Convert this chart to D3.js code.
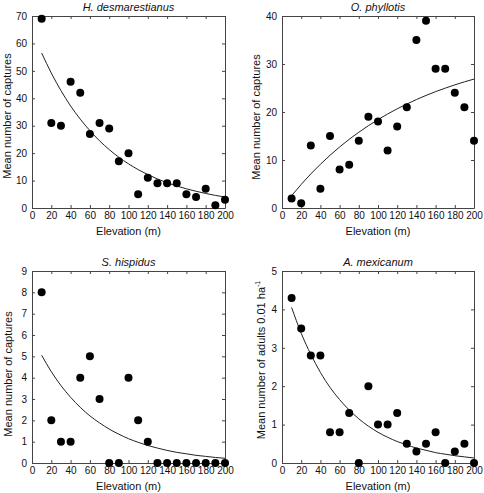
<!DOCTYPE html>
<html><head><meta charset="utf-8">
<script src="https://cdn.jsdelivr.net/npm/d3@7"></script>
<style>
body{margin:0;background:#fff}
svg text{font-family:"Liberation Sans",Arial,Helvetica,sans-serif;fill:#111}
</style>
</head><body>
<svg id="chart" width="484" height="493"></svg>
<script>
// ---------- data ----------
const elevation = [10,20,30,40,50,60,70,80,90,100,110,120,130,140,150,160,170,180,190,200];
const xTicks = [0,20,40,60,80,100,120,140,160,180,200];

const hDesmCaptures = [69,31,30,46,42,27,31,29,17,20,5,11,9,9,9,5,4,7,1,3];
const hDesmFit = [56.5,49.2,42.8,37.2,32.4,28.2,24.5,21.3,18.5,16.1,14.0,12.2,10.6,9.2,8.0,7.0,6.1,5.3,4.6,4.0];
const hDesmTicks = [0,10,20,30,40,50,60,70];

const oPhylCaptures = [2,1,13,4,15,8,9,14,19,18,12,17,21,35,39,29,29,24,21,14];
const oPhylFit = [2.55,4.91,7.09,9.11,10.98,12.71,14.31,15.78,17.15,18.41,19.58,20.67,21.66,22.59,23.45,24.24,24.97,25.65,26.28,26.86];
const oPhylTicks = [0,10,20,30,40];

const sHispCaptures = [8,2,1,1,4,5,3,0,0,4,2,1,0,0,0,0,0,0,0,0];
const sHispFit = [5.05,4.28,3.63,3.08,2.61,2.21,1.88,1.59,1.35,1.14,0.97,0.82,0.70,0.59,0.50,0.43,0.36,0.31,0.26,0.22];
const sHispTicks = [0,1,2,3,4,5,6,7,8,9];

const aMexAdults = [4.3,3.5,2.8,2.8,0.8,0.8,1.3,0,2.0,1.0,1.0,1.3,0.5,0.3,0.5,0.8,0,0.3,0.5,0];
const aMexFit = [4.05,3.38,2.83,2.36,1.97,1.65,1.38,1.15,0.96,0.80,0.67,0.56,0.47,0.39,0.33,0.27,0.23,0.19,0.16,0.13];
const aMexTicks = [0,1,2,3,4,5];

const titles = ["H. desmarestianus","O. phyllotis","S. hispidus","A. mexicanum"];
const yLabels = ["Mean number of captures","Mean number of captures","Mean number of captures","Mean number of adults 0.01 ha"];
const xLabel = "Elevation (m)";

// ---------- layout ----------
const panels = [
  {title:titles[0], yLabel:yLabels[0], values:hDesmCaptures, fit:hDesmFit, yTicks:hDesmTicks,
   x0:32, x1:225, y0:16, y1:208, labX:7, labY:116, sup:false},
  {title:titles[1], yLabel:yLabels[1], values:oPhylCaptures, fit:oPhylFit, yTicks:oPhylTicks,
   x0:282, x1:474, y0:16, y1:208, labX:256, labY:117, sup:false},
  {title:titles[2], yLabel:yLabels[2], values:sHispCaptures, fit:sHispFit, yTicks:sHispTicks,
   x0:32, x1:225, y0:271, y1:463, labX:7.5, labY:374, sup:false},
  {title:titles[3], yLabel:yLabels[3], values:aMexAdults, fit:aMexFit, yTicks:aMexTicks,
   x0:282, x1:474, y0:271, y1:463, labX:261, labY:360, sup:true}
];

const svg = d3.select("#chart");
const fmt = d3.format("d");

function styleAxis(sel){
  sel.select(".domain").attr("stroke","#444").attr("stroke-width",1);
  sel.selectAll(".tick line").attr("stroke","#444").attr("stroke-width",1);
  sel.selectAll(".tick text").attr("font-size","10px").attr("fill","#111")
     .attr("font-family","'Liberation Sans',Arial,sans-serif");
}

panels.forEach(p => {
  const yMax = p.yTicks[p.yTicks.length-1];
  const x = d3.scaleLinear().domain([0,200]).range([p.x0,p.x1]);
  const y = d3.scaleLinear().domain([0,yMax]).range([p.y1,p.y0]);
  const g = svg.append("g");

  // axes (inward ticks on all sides)
  g.append("g").attr("transform",`translate(0,${p.y1})`)
    .call(d3.axisBottom(x).tickValues(xTicks).tickFormat(fmt).tickSizeInner(-3).tickSizeOuter(0).tickPadding(4))
    .call(styleAxis);
  g.append("g").attr("transform",`translate(0,${p.y0})`)
    .call(d3.axisTop(x).tickValues(xTicks).tickSizeInner(-3).tickSizeOuter(0).tickFormat(""))
    .call(styleAxis);
  g.append("g").attr("transform",`translate(${p.x0},0)`)
    .call(d3.axisLeft(y).tickValues(p.yTicks).tickFormat(fmt).tickSizeInner(-3).tickSizeOuter(0).tickPadding(5))
    .call(styleAxis);
  g.append("g").attr("transform",`translate(${p.x1},0)`)
    .call(d3.axisRight(y).tickValues(p.yTicks).tickSizeInner(-3).tickSizeOuter(0).tickFormat(""))
    .call(styleAxis);

  // fitted curve
  const line = d3.line().x((d,i)=>x(elevation[i])).y(d=>y(d)).curve(d3.curveNatural);
  g.append("path").datum(p.fit).attr("d",line)
    .attr("fill","none").attr("stroke","#222").attr("stroke-width",1);

  // points
  g.selectAll("circle.pt").data(p.values).join("circle").attr("class","pt")
    .attr("cx",(d,i)=>x(elevation[i])).attr("cy",d=>y(d)).attr("r",4).attr("fill","#000");

  // title
  g.append("text").attr("x",(p.x0+p.x1)/2).attr("y",p.y0-9)
    .attr("text-anchor","middle").attr("dominant-baseline","central")
    .attr("font-size","11px").attr("font-style","italic").text(p.title);

  // x label
  g.append("text").attr("x",(p.x0+p.x1)/2).attr("y",p.y1+23)
    .attr("text-anchor","middle").attr("dominant-baseline","central")
    .attr("font-size","11px").text(xLabel);

  // y label
  const yl = g.append("text")
    .attr("transform",`translate(${p.labX},${p.labY}) rotate(-90)`)
    .attr("text-anchor","middle").attr("dominant-baseline","central")
    .attr("font-size","11px").text(p.yLabel);
  if(p.sup){
    yl.append("tspan").attr("font-size","7px").attr("dy","-4").text("-1");
  }
});
</script>
</body></html>
